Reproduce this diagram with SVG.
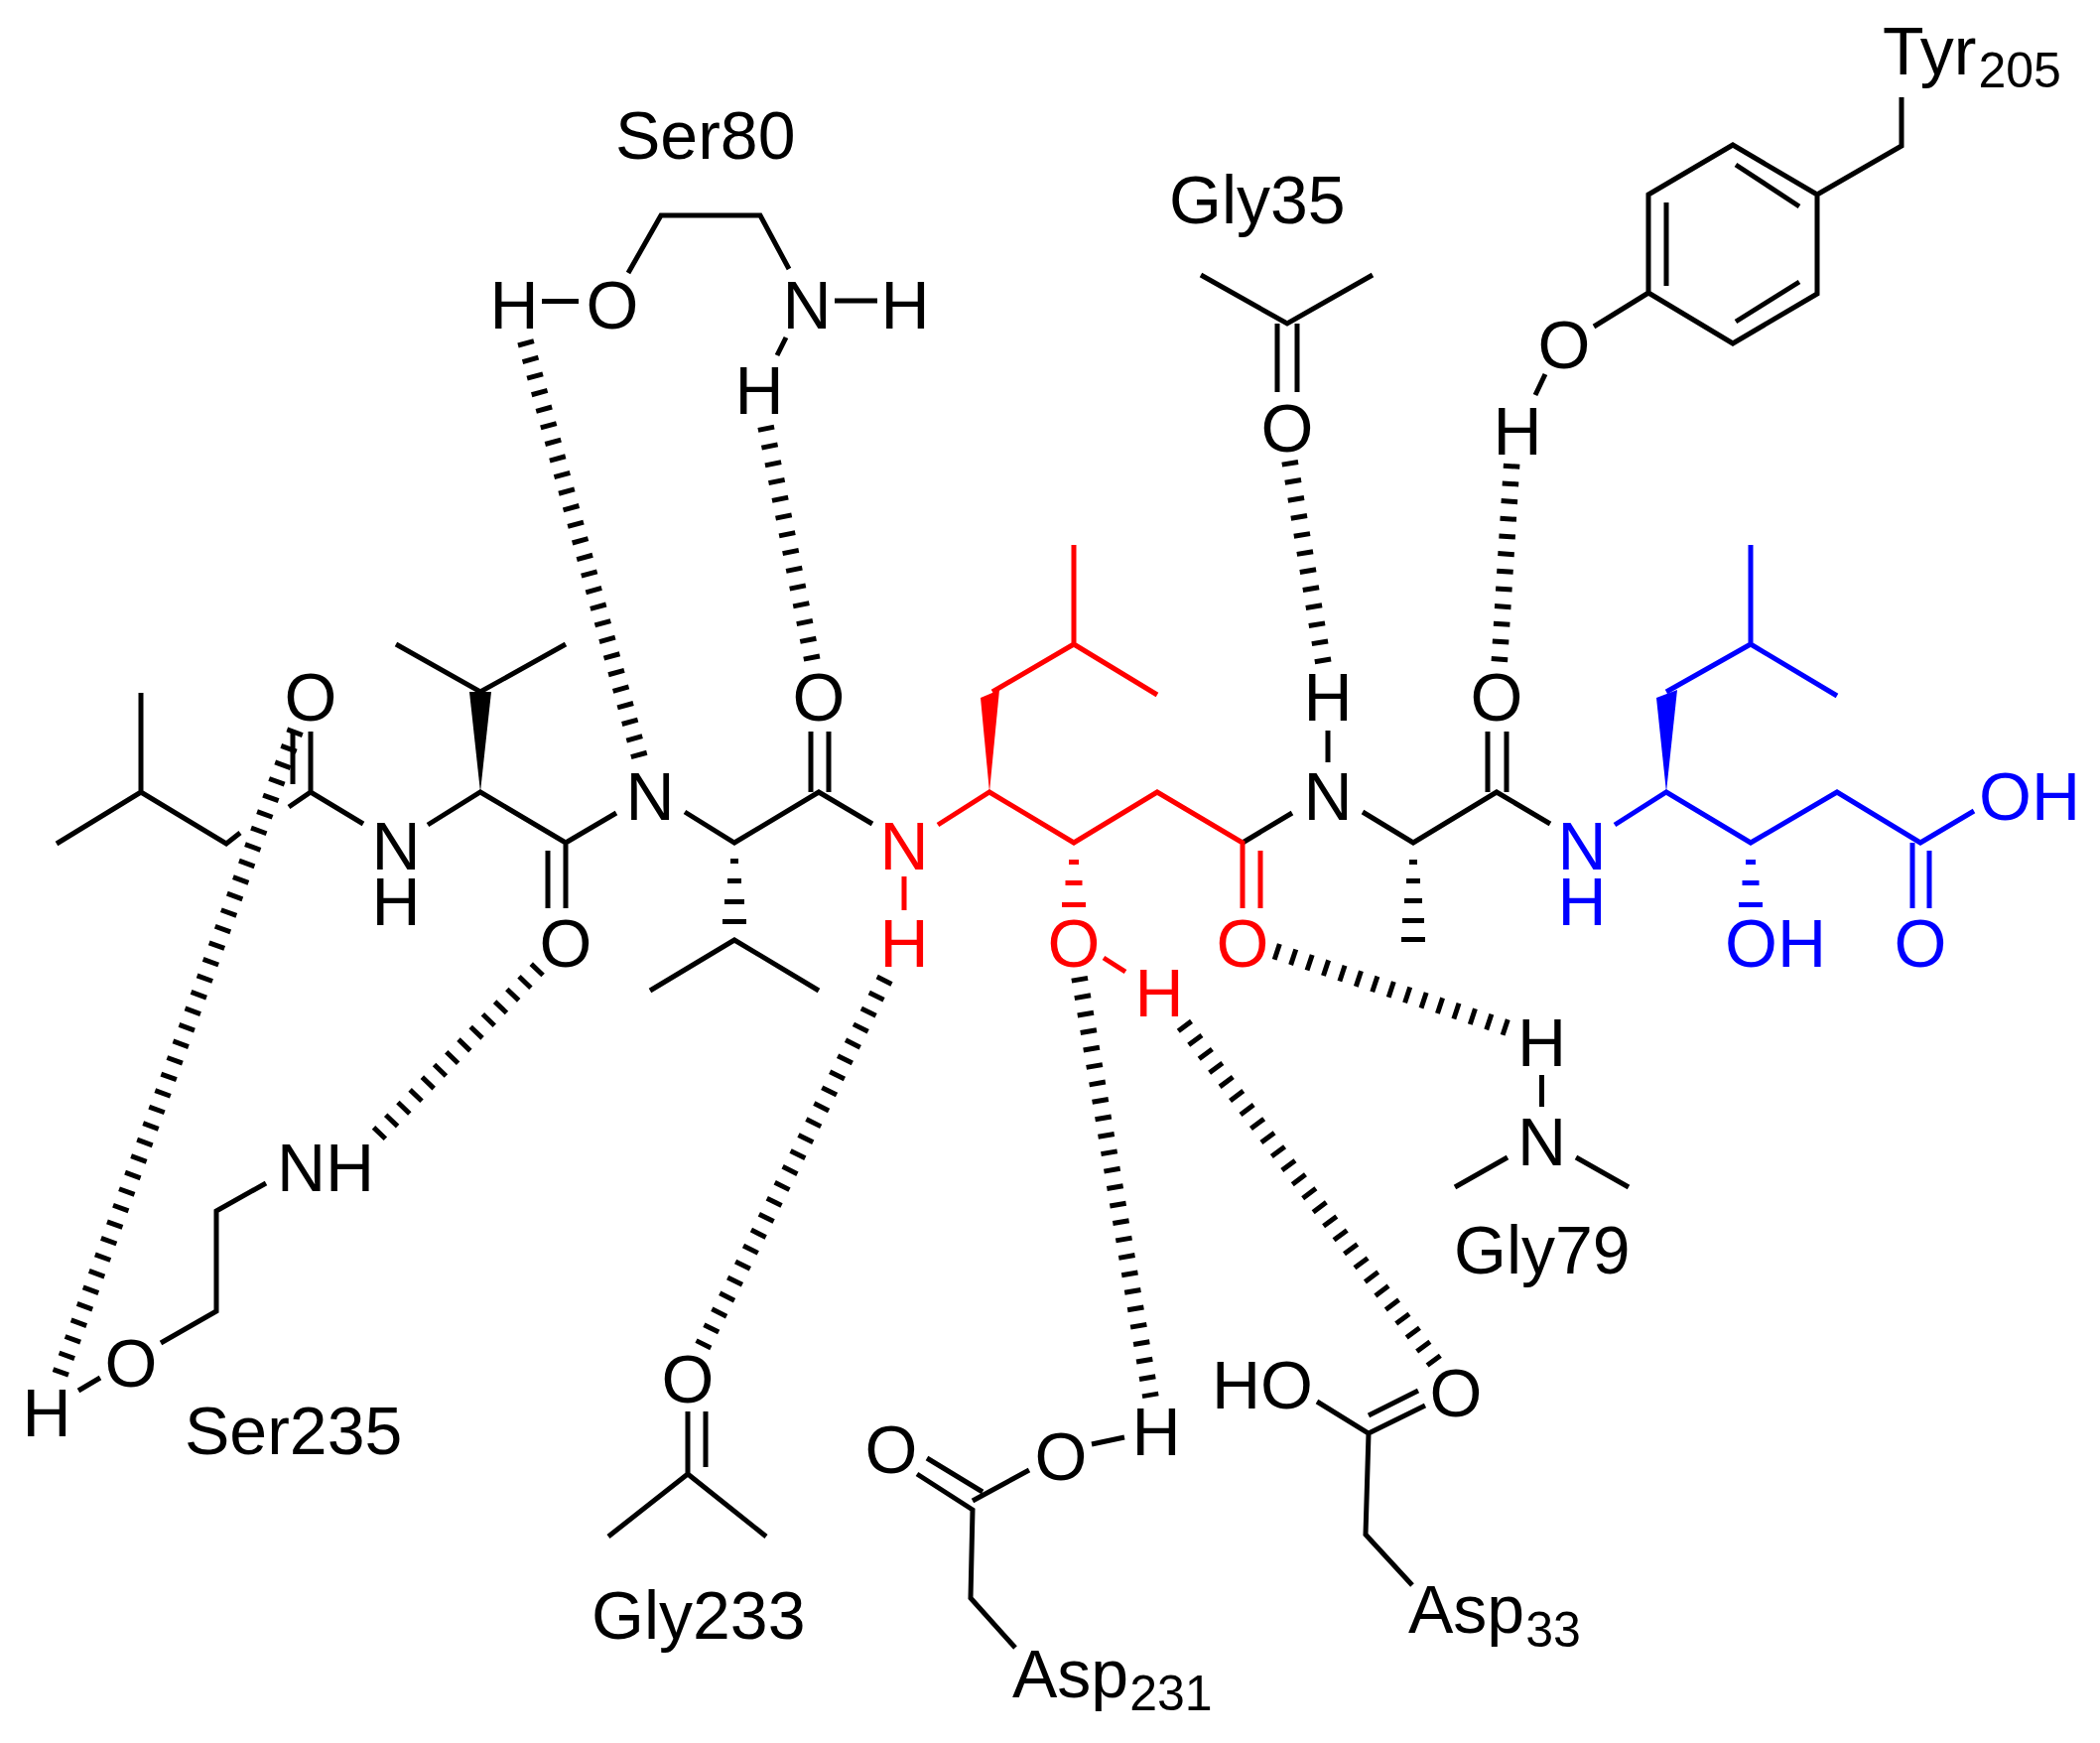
<svg xmlns="http://www.w3.org/2000/svg" width="2116" height="1756" viewBox="0 0 2116 1756">
<style>
text{font-family:"Liberation Sans",Arial,sans-serif;font-size:68px;fill:#000}
.a{text-anchor:middle}
.s{font-size:50px}
path{fill:none;stroke:#000;stroke-width:5;stroke-linejoin:miter;stroke-linecap:butt}
.w{fill:#000;stroke:none}
.hb{stroke-width:16.500;stroke-dasharray:5 12.6}
.red text,.blue text{fill:currentColor}
.red{color:#f00}.blue{color:#00f}
.red path,.blue path{stroke:currentColor}
.red .w,.blue .w{fill:currentColor;stroke:none}
</style>
<rect width="2116" height="1756" fill="#fff"/>
<g id="hydrogen-bonds">
<path class="hb" d="M297.9 735.4L60.1 1385.6"/>
<path class="hb" style="stroke-dasharray:5 12.2" d="M529.3 343.4L644.7 763.7"/>
<path class="hb" style="stroke-dasharray:5 13.1" d="M771.5 429.3L818.5 665.7"/>
<path class="hb" style="stroke-dasharray:5 13.3" d="M1299.5 464.3L1333.5 668.7"/>
<path class="hb" style="stroke-dasharray:5 12.7" d="M1523.2 467.3L1510.8 666.7"/>
<path class="hb" style="stroke-dasharray:5 12.6" d="M542.9 975L380.1 1144"/>
<path class="hb" style="stroke-dasharray:5 12.8" d="M892.2 985.5L707.8 1356.5"/>
<path class="hb" style="stroke-dasharray:5 12.7" d="M1087.5 984.3L1159.5 1407.7"/>
<path class="hb" style="stroke-dasharray:5 12.5" d="M1192.4 1031.8L1446.6 1373.2"/>
<path class="hb" style="stroke-dasharray:5 12.3" d="M1284.4 958.1L1519.6 1035.9"/>
</g>
<g id="ligand-black">
<path d="M142 698V798M57 850L142 798L228 850L242 839M291 813L313 798L366 830M313 798V737M295 790V737"/>
<path d="M431 831L484 798L570 849L621 819M399 649L484 697L570 649M570 849V915M552 857V915"/>
<path class="w" d="M484 798L473 697H495Z"/>
<path d="M690 818L740 849L825 798L879 830M817 798V737M835 798V737M655 998L740 947L825 998"/>
<path class="w" d="M736 865h8v5h-8zM733 885h14v5h-14zM730 906h20v5h-20zM728 926h24v5h-24z"/>
<path d="M1302 819L1252 849M1338 736V768M1373 818L1424 849L1508 798L1562 830M1499 798V737M1518 798V737"/>
<path class="w" d="M1420 866h8v5h-8zM1417 885h14v5h-14zM1415 905h18v5h-18zM1413 925h22v5h-22zM1412 944h24v5h-24z"/>
<text class="a" x="313" y="726">O</text>
<text class="a" x="399" y="876">N</text>
<text class="a" x="399" y="932">H</text>
<text class="a" x="570" y="974">O</text>
<text class="a" x="655" y="826">N</text>
<text class="a" x="825" y="726">O</text>
<text class="a" x="1338" y="826">N</text>
<text class="a" x="1338" y="726">H</text>
<text class="a" x="1508" y="726">O</text>
</g>
<g id="ligand-red" class="red">
<path d="M945 831L997 798L1082 849L1166 798L1252 849V915M1270 857V915M911 883V917M1000 697L1082 649L1166 700M1082 649V549M1112 965L1134 979"/>
<path class="w" d="M997 798L988 703L1007 695Z"/>
<path class="w" d="M1077 866h10v5h-10zM1073.500 887h17v5h-17zM1070 909h24v5h-24z"/>
<text class="a" x="911" y="876">N</text>
<text class="a" x="911" y="974">H</text>
<text class="a" x="1082" y="974">O</text>
<text class="a" x="1252" y="974">O</text>
<text class="a" x="1168" y="1024">H</text>
</g>
<g id="ligand-blue" class="blue">
<path d="M1627 831L1679 798L1764 849L1851 798L1935 849L1989 817M1927 849V915M1944 857V915M1679 697L1764 649L1851 701M1764 649V549"/>
<path class="w" d="M1679 798L1669 703L1690 695Z"/>
<path class="w" d="M1759 866h10v5h-10zM1755.500 887h17v5h-17zM1752 909h24v5h-24z"/>
<text class="a" x="1594" y="876">N</text>
<text class="a" x="1594" y="932">H</text>
<text x="1738" y="974">OH</text>
<text x="1994" y="826">OH</text>
<text class="a" x="1935" y="974">O</text>
</g>
<g id="ser80">
<path d="M546 303.500H583M633 275L666 217H766L795 271M841 303H884M792 340L783 358"/>
<text class="a" x="518" y="331">H</text>
<text class="a" x="617" y="331">O</text>
<text class="a" x="813" y="331">N</text>
<text class="a" x="912" y="331">H</text>
<text class="a" x="765" y="417">H</text>
<text x="620" y="160">Ser80</text>
</g>
<g id="gly35">
<path d="M1210 277L1297 326L1383 277M1287 326V395M1307 326V395"/>
<text class="a" x="1297" y="455">O</text>
<text x="1178" y="225">Gly35</text>
</g>
<g id="tyr205">
<path d="M1746 146L1831 196V296L1746 346L1661 295V196ZM1679 204V288M1749 166L1813 208M1813 284L1749 324M1831 196L1916 147V98M1661 295L1606 329M1557 377L1547 398"/>
<text class="a" x="1576" y="371">O</text>
<text class="a" x="1529" y="458">H</text>
<text x="1897" y="75">Tyr<tspan class="s" dx="2" dy="13">205</tspan></text>
</g>
<g id="ser235">
<path d="M268 1192L218 1220V1321L162 1353M101 1388L79 1401"/>
<text x="279" y="1200">NH</text>
<text class="a" x="132" y="1397">O</text>
<text class="a" x="47" y="1447">H</text>
<text x="186" y="1465">Ser235</text>
</g>
<g id="gly233">
<path d="M693 1422V1485M711 1422V1478M613 1548L693 1485L772 1548"/>
<text class="a" x="693" y="1413">O</text>
<text x="596" y="1651">Gly233</text>
</g>
<g id="asp231">
<path d="M924 1485L980 1521L978 1610L1023 1660M934 1469L990 1503M980 1512L1037 1481M1100 1455L1133 1448"/>
<text class="a" x="898" y="1484">O</text>
<text class="a" x="1069" y="1491">O</text>
<text class="a" x="1165" y="1466">H</text>
<text x="1020" y="1710">Asp<tspan class="s" dx="1" dy="13">231</tspan></text>
</g>
<g id="asp33">
<path d="M1327 1412L1379 1444L1376 1546L1423 1597M1379 1444L1436 1416M1379 1426L1429 1401"/>
<text x="1221" y="1419">HO</text>
<text class="a" x="1467" y="1427">O</text>
<text x="1419" y="1645">Asp<tspan class="s" dx="1" dy="14">33</tspan></text>
</g>
<g id="gly79">
<path d="M1553.500 1083V1115M1519 1166L1466 1196M1588 1166L1641 1196"/>
<text class="a" x="1553.500" y="1074">H</text>
<text class="a" x="1553.500" y="1174">N</text>
<text x="1465" y="1283">Gly79</text>
</g>
</svg>
